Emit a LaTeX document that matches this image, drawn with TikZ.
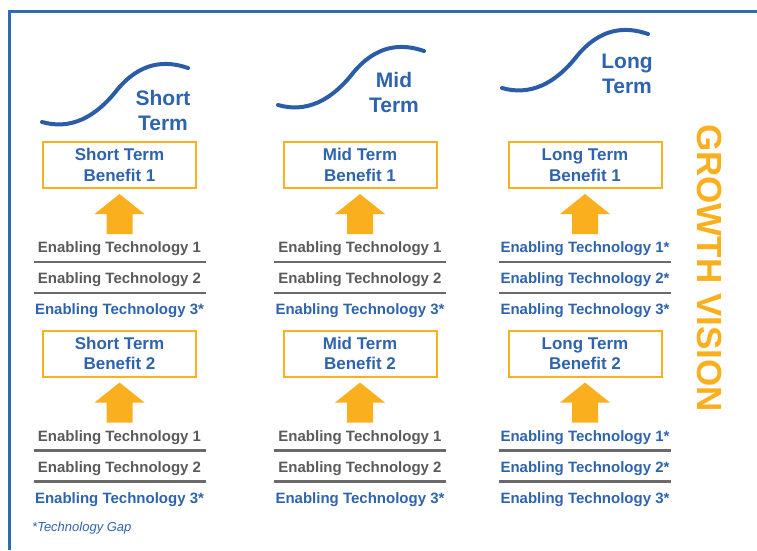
\documentclass[tikz,border=0pt]{standalone}
\usepackage{fontspec}
\setmainfont{Liberation Sans}
\definecolor{vblue}{HTML}{2E63AD}
\definecolor{curveblue}{HTML}{2A5CA8}
\definecolor{frameblue}{HTML}{2F6BB5}
\definecolor{gold}{HTML}{FAB01E}
\definecolor{techgray}{HTML}{5A5A5A}
\definecolor{rulegray}{HTML}{6A6A6A}
\begin{document}
\begin{tikzpicture}[x=1pt,y=-1pt,
  frame/.style={draw=frameblue,line width=3pt},
  curve/.style={draw=curveblue,line width=4pt,line cap=round},
  phase/.style={text=vblue,font=\fontsize{21}{25}\selectfont\bfseries,align=center,inner sep=0pt},
  benefit/.style={draw=gold,line width=2pt,minimum width=153pt,minimum height=46pt,
    text=vblue,font=\fontsize{17}{20.5}\selectfont\bfseries,align=center,inner sep=0pt},
  tech/.style={font=\fontsize{15}{18}\selectfont\bfseries,inner sep=0pt,anchor=base},
  known/.style={tech,text=techgray},
  gap/.style={tech,text=vblue},
  sep/.style={draw=rulegray,line width=2.5pt},
  uparrow/.style={fill=gold},
  vision/.style={text=gold,font=\fontsize{35}{40}\selectfont\bfseries,rotate=-90,inner sep=0pt},
  note/.style={text=vblue,font=\fontsize{13}{15}\selectfont\itshape,anchor=west,inner sep=0pt},
]
\useasboundingbox (0,0) rectangle (757,550);

% open frame: top and left edges only
\draw[frame] (757,11) -- (9,11) -- (9,550);

% growth curves with their phase labels
\foreach \c/\sx/\sy/\lx/\ly/\lbl in {1/0/0/163/110/Short,2/236/-17/394/92/Mid,3/460/-34/627/74/Long}{
  \draw[curve,shift={(\sx,\sy)}] (42,122) .. controls (70,130) and (95,118) .. (117,90)
    .. controls (140,62) and (165,60) .. (188,68);
  \node[phase] (phase-\c) at (\lx,\ly) {\lbl\\Term};
}

% benefit boxes, arrows and enabling technology lists
\foreach \c/\cx/\lbl/\rows in {
    1/119.5/Short/{known/1,known/2,gap/3*},
    2/360/Mid/{known/1,known/2,gap/3*},
    3/585/Long/{gap/1*,gap/2*,gap/3*}}{
  \foreach \b/\dy in {1/0,2/188.5}{
    \node[benefit] (ben-\c-\b) at (\cx,165+\dy) {\lbl{} Term\\Benefit \b};
    \fill[uparrow] ([yshift=-5pt]ben-\c-\b.south) -- ++(25,20) -- ++(-12,0) -- ++(0,20)
      -- ++(-26,0) -- ++(0,-20) -- ++(-12,0) -- cycle;
    \foreach \st/\num [count=\r] in \rows{
      \node[\st] (tech-\c-\b-\r) at (\cx,{252.5+31*(\r-1)+\dy}) {Enabling Technology \num};
    }
    \draw[sep] ({\cx-86},{262+\dy}) -- ({\cx+86},{262+\dy});
    \draw[sep] ({\cx-86},{293+\dy}) -- ({\cx+86},{293+\dy});
  }
}

\node[vision] (vision) at (710,268) {GROWTH VISION};
\node[note] (gapnote) at (32,528) {*Technology Gap};
\end{tikzpicture}
\end{document}
